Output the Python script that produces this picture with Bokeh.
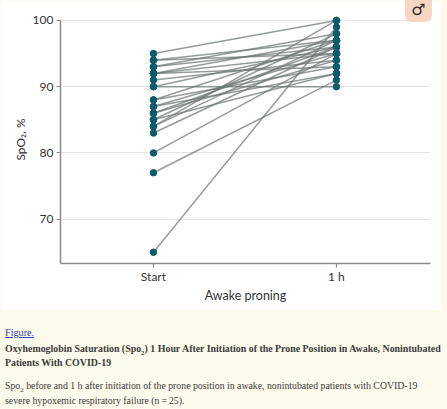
from bokeh.plotting import figure
from bokeh.models import FixedTicker, Div, ColumnDataSource
from bokeh.layouts import column
from bokeh.embed import file_html
from bokeh.resources import INLINE

# ---- data ----
time_labels = ["Start", "1 h"]
time_pos = [0, 1]
spo2_start = [95, 94, 94, 93, 93, 92, 92, 91, 90, 90, 88, 88, 87,
              87, 86, 86, 85, 85, 84, 84, 83, 80, 77, 65, 92]
spo2_1h = [100, 97, 95, 96, 98, 95, 97, 94, 90, 96, 93, 97, 92,
           95, 96, 94, 92, 98, 97, 100, 96, 95, 91, 99, 93]
y_ticks = [70, 80, 90, 100]
y_title = "SpO\u2082, %"
x_title = "Awake proning"

SANS = "Lato"

lines_src = ColumnDataSource(dict(
    xs=[[time_pos[0], time_pos[1]] for _ in spo2_start],
    ys=[[s, e] for s, e in zip(spo2_start, spo2_1h)],
))
pts_src = ColumnDataSource(dict(
    x=[time_pos[0]] * len(spo2_start) + [time_pos[1]] * len(spo2_1h),
    y=spo2_start + spo2_1h,
))

p = figure(width=441, height=310,
           x_range=(-0.508, 1.514), y_range=(63.3, 100.75),
           output_backend="svg", toolbar_location=None,
           min_border_left=60, min_border_right=11,
           min_border_top=15, min_border_bottom=47)
p.outline_line_color = None
p.background_fill_color = "white"
p.border_fill_color = "white"

p.xgrid.visible = False
p.ygrid.ticker = FixedTicker(ticks=y_ticks)
p.ygrid.grid_line_color = "#e2e2e2"
p.ygrid.grid_line_width = 1.2

p.multi_line(xs="xs", ys="ys", source=lines_src,
             line_color="#6c7575", line_alpha=0.72, line_width=1.5)
p.scatter(x="x", y="y", source=pts_src, size=6.5,
          fill_color="#0b5c6a", line_color="#0b5c6a")

for ax in (p.xaxis[0], p.yaxis[0]):
    ax.axis_line_color = "#8a8a8a"
    ax.axis_line_width = 1.5
    ax.major_tick_line_color = "#8a8a8a"
    ax.major_tick_line_width = 1.2
    ax.major_tick_out = 4
    ax.major_tick_in = 0
    ax.minor_tick_line_color = None
    ax.major_label_text_font = SANS
    ax.major_label_text_font_size = "12px"
    ax.major_label_text_color = "#333333"
    ax.axis_label_text_font = SANS
    ax.axis_label_text_font_style = "normal"
    ax.axis_label_text_color = "#333333"

p.yaxis.ticker = FixedTicker(ticks=y_ticks)
p.yaxis.bounds = (63.3, 100)
p.yaxis.axis_label = y_title
p.yaxis.axis_label_text_font_size = "12px"
p.yaxis.major_label_standoff = 3
p.yaxis.axis_label_standoff = 2

p.xaxis.ticker = FixedTicker(ticks=time_pos)
p.xaxis.major_label_overrides = {time_pos[0]: time_labels[0], time_pos[1]: time_labels[1]}
p.xaxis.axis_label = x_title
p.xaxis.axis_label_text_font_size = "12.5px"
p.xaxis.major_label_standoff = 1
p.xaxis.axis_label_standoff = 1

caption_html = """
<div style="position:relative;width:447px;height:99px;overflow:visible;
 font-family:'Liberation Serif','DejaVu Serif',serif;color:#333;">
 <div style="position:absolute;left:400px;top:-315px;width:27px;height:22px;background:#f6d6c2;
  border-radius:0 0 7px 7px;text-align:center;line-height:22px;font:bold 16px 'DejaVu Sans';color:#2e2e2e;">&#9794;</div>
 <div style="position:absolute;left:0px;top:11px;font-size:10.2px;line-height:14px;">
  <a style="color:#2c47b5;text-decoration:underline;">Figure.</a></div>
 <div style="position:absolute;left:0px;top:27px;font-size:9.9px;line-height:14px;font-weight:bold;white-space:nowrap;color:#3a3a3a;">
  Oxyhemoglobin Saturation (Spo<sub style="font-size:7px;line-height:0;">2</sub>) 1 Hour After Initiation of the Prone Position in Awake, Nonintubated<br>
  Patients With COVID-19</div>
 <div style="position:absolute;left:0px;top:63px;font-size:9.8px;line-height:15px;white-space:nowrap;color:#3a3a3a;">
  Spo<sub style="font-size:7px;line-height:0;">2</sub> before and 1 h after initiation of the prone position in awake, nonintubated patients with COVID-19<br>
  severe hypoxemic respiratory failure (n&#8201;=&#8201;25).</div>
</div>
"""
cap = Div(text=caption_html, width=447, height=99)

layout = column(p, cap, spacing=0, styles={"background-color": "#fcfaea"})

open("out.html", "w").write(file_html(layout, INLINE))
